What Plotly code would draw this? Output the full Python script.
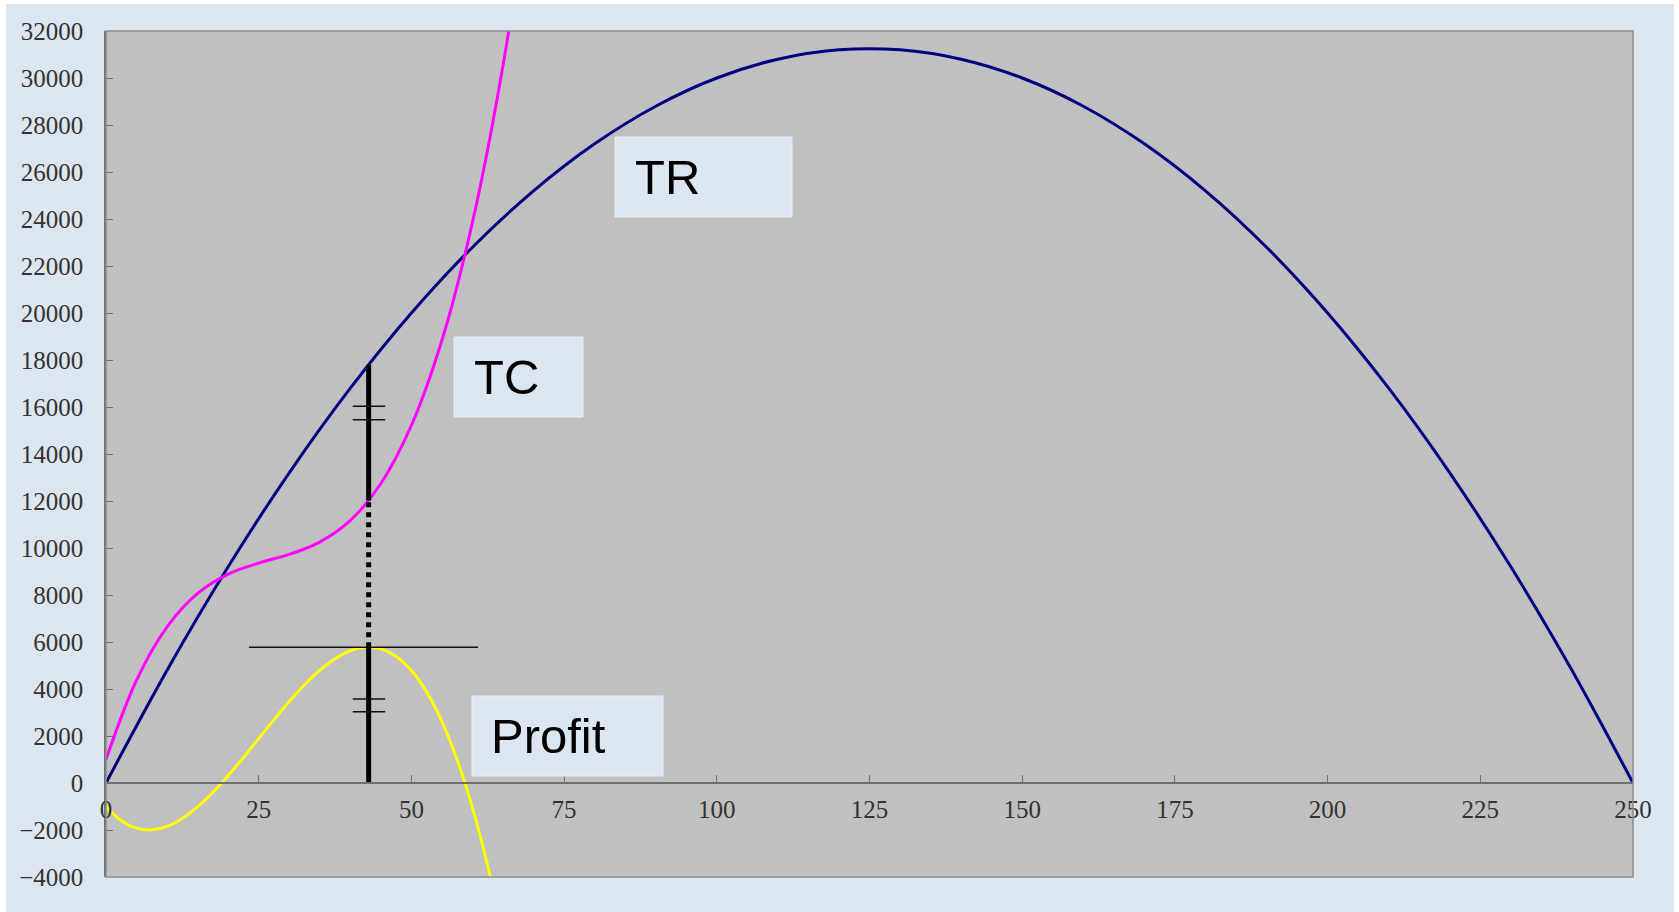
import plotly.graph_objects as go

# ---- data ----
q_tr = [0, 10, 20, 30, 40, 50, 60, 70, 80, 90, 100, 110, 120, 130, 140, 150,
        160, 170, 180, 190, 200, 210, 220, 230, 240, 250]
tr = [0, 4800, 9200, 13200, 16800, 20000, 22800, 25200, 27200, 28800, 30000, 30800,
      31200, 31200, 30800, 30000, 28800, 27200, 25200, 22800, 20000, 16800,
      13200, 9200, 4800, 0]

q_tc = [0, 5, 10, 15, 20, 25, 30, 35, 40, 45, 50, 55, 60, 65, 70]
tc = [1000, 4372, 6643, 8065, 8887, 9358, 9730, 10252, 11173, 12745, 15217,
      18838, 23860, 30532, 39103]

q_pr = [0, 2.5, 5, 7.5, 10, 12.5, 15, 17.5, 20, 22.5, 25, 27.5, 30, 32.5, 35, 37.5,
        40, 42.5, 45, 47.5, 50, 52.5, 55, 57.5, 60, 62.5, 65]
profit = [-1000, -1602, -1922, -1992, -1843, -1507, -1015, -398, 313, 1087, 1892,
          2697, 3470, 4181, 4798, 5291, 5627, 5775, 5705, 5385, 4783, 3869, 2612,
          979, -1060, -3537, -6482]

q_opt = 43
profit_max = 5780
tc_opt = 12022
tr_opt = 17802
hline_x = [23.4, 60.9]
tick_x = [40.4, 45.7]
ticks_upper = [16030, 15460]
ticks_lower = [3574, 3034]

x_ticks = [0, 25, 50, 75, 100, 125, 150, 175, 200, 225, 250]
labels = ["TR", "TC", "Profit"]

# ---- figure ----
W, H = 1679, 912
L, R, T, B = 106, 46, 31, 35
pw, ph = W - L - R, H - T - B

def px(xp):
    return (xp - L) / pw

def py(yp):
    return (H - B - yp) / ph

fig = go.Figure()

fig.add_trace(go.Scatter(x=q_tr, y=tr, mode="lines", line=dict(color="#000080", width=3, shape="spline"), showlegend=False))
fig.add_trace(go.Scatter(x=q_tc, y=tc, mode="lines", line=dict(color="#FF00FF", width=3, shape="spline"), showlegend=False))
fig.add_trace(go.Scatter(x=q_pr, y=profit, mode="lines", line=dict(color="#FFFF00", width=3, shape="spline"), showlegend=False))

# construction lines
fig.add_trace(go.Scatter(x=hline_x, y=[profit_max, profit_max], mode="lines",
                         line=dict(color="#111111", width=1.5), showlegend=False))
fig.add_trace(go.Scatter(x=[q_opt, q_opt], y=[0, profit_max], mode="lines",
                         line=dict(color="black", width=5), showlegend=False))
fig.add_trace(go.Scatter(x=[q_opt, q_opt], y=[profit_max, tc_opt], mode="lines",
                         line=dict(color="black", width=5, dash="dot"), showlegend=False))
fig.add_trace(go.Scatter(x=[q_opt, q_opt], y=[tc_opt, tr_opt], mode="lines",
                         line=dict(color="black", width=5), showlegend=False))
for yv in ticks_upper + ticks_lower:
    fig.add_trace(go.Scatter(x=tick_x, y=[yv, yv], mode="lines",
                             line=dict(color="#111111", width=1.5), showlegend=False))

shapes = []
annotations = []
# label boxes (pixel positions -> paper)
boxes = [
    (615, 792, 137, 217, 633),
    (454, 583, 337, 417, 472),
    (472, 663, 696, 776, 489),
]
for (x0, x1, y0, y1, xt), lab in zip(boxes, labels):
    shapes.append(dict(type="rect", xref="paper", yref="paper",
                       x0=px(x0), x1=px(x1), y0=py(y1), y1=py(y0),
                       fillcolor="#DCE6F1", line=dict(color="#E8EEF6", width=1), layer="above"))
    annotations.append(dict(text=lab, xref="paper", yref="paper", x=px(xt), y=py((y0 + y1) / 2),
                            xanchor="left", yanchor="middle", showarrow=False,
                            font=dict(family="Liberation Sans, Arial", size=49, color="black")))

# plot frame
shapes.append(dict(type="rect", xref="paper", yref="paper", x0=0, x1=1, y0=0, y1=1,
                   line=dict(color="#8A8A8A", width=1.5), layer="above"))
# white outer margins
shapes.append(dict(type="rect", xref="paper", yref="paper", x0=px(0), x1=px(W), y0=py(0), y1=py(4),
                   fillcolor="white", line=dict(width=0), layer="above"))
shapes.append(dict(type="rect", xref="paper", yref="paper", x0=px(0), x1=px(6), y0=py(H), y1=py(0),
                   fillcolor="white", line=dict(width=0), layer="above"))
shapes.append(dict(type="rect", xref="paper", yref="paper", x0=px(1674), x1=px(W), y0=py(H), y1=py(0),
                   fillcolor="white", line=dict(width=0), layer="above"))

tickfont = dict(family="Liberation Serif, Times New Roman, serif", size=25, color="#333333")

fig.update_layout(
    width=W, height=H,
    margin=dict(l=L, r=R, t=T, b=B, autoexpand=False),
    paper_bgcolor="#DCE6F1",
    plot_bgcolor="#C0C0C0",
    showlegend=False,
    hovermode=False,
    shapes=shapes,
    annotations=annotations,
    xaxis=dict(range=[0, 250], tickvals=x_ticks, ticks="inside", ticklen=7, tickcolor="#707070",
               showline=True, linecolor="#707070", linewidth=1.5, showgrid=False, zeroline=False,
               anchor="free", position=4000 / 36000, tickfont=tickfont, ticklabelstandoff=4),
    yaxis=dict(range=[-4000, 32000], dtick=2000, tickformat="d", ticks="inside", ticklen=7,
               tickcolor="#707070", showline=True, linecolor="#707070", linewidth=1.5,
               showgrid=False, zeroline=False, tickfont=tickfont, ticklabelstandoff=16),
)

fig.write_html("out.html", config={"displayModeBar": False},
               post_script="document.body.style.margin='0';document.body.style.overflow='hidden';")
